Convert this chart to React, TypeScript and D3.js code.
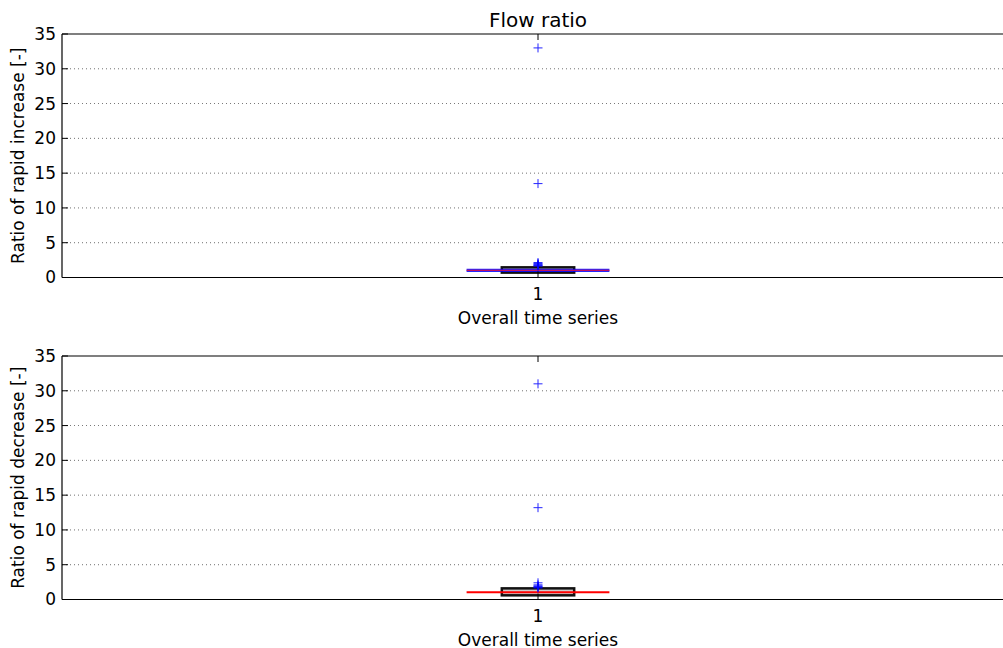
import React from "react";
import * as d3 from "d3";

const W = 1003;
const H = 648;

const yTicks = [0, 5, 10, 15, 20, 25, 30, 35];
const xTickLabels = ["1"];
const titleText = "Flow ratio";
const xLabel = "Overall time series";

const panelLabels = ["Ratio of rapid increase [-]", "Ratio of rapid decrease [-]"];
// box stats: [whiskerLow, q1, median, q3, whiskerHigh]
const increaseBox = [0.7, 0.7, 1.03, 1.46, 1.46];
const decreaseBox = [0.6, 0.6, 1.05, 1.6, 1.6];
const increaseOutliers = [33, 13.5, 2.15, 2.0, 1.9, 1.8, 1.7, 1.65];
const decreaseOutliers = [31, 13.2, 2.4, 2.1, 1.95, 1.85, 1.75, 1.65];

const panels = [
  { label: panelLabels[0], box: increaseBox, outliers: increaseOutliers, top: 34, bottom: 277.5, purple: true },
  { label: panelLabels[1], box: decreaseBox, outliers: decreaseOutliers, top: 356, bottom: 599.5, purple: false },
];

const FONT = "DejaVu Sans, sans-serif";
const FS = 17;

function Panel({ p }: { p: typeof panels[number] }) {
  const x = d3.scaleLinear().domain([0.5, 1.5]).range([62, 1014]);
  const y = d3.scaleLinear().domain([0, 35]).range([p.bottom, p.top]);
  const cx = x(1);
  const boxHalf = x(1.038) - x(1);
  const lineHalf = x(1.075) - x(1);
  const [wl, q1, med, q3, wh] = p.box;
  const plus = 4.5;
  return (
    <g>
      {yTicks.filter((t) => t > 0 && t < 35).map((t) => (
        <line key={"g" + t} x1={62} x2={1014} y1={y(t)} y2={y(t)} stroke="#000" strokeWidth={0.8} strokeDasharray="1,3" opacity={0.7} />
      ))}
      <line x1={cx} x2={cx} y1={y(wl)} y2={y(q1)} stroke="#000" strokeWidth={1} />
      <line x1={cx} x2={cx} y1={y(q3)} y2={y(wh)} stroke="#000" strokeWidth={1} />
      <rect x={cx - boxHalf} y={y(q3)} width={boxHalf * 2} height={y(q1) - y(q3)} fill="#555" fillOpacity={0.3} stroke="#111" strokeWidth={2.5} />
      {p.purple && (
        <line x1={cx - lineHalf} x2={cx + lineHalf} y1={y(med)} y2={y(med)} stroke="#0000ff" strokeWidth={3.2} opacity={0.85} />
      )}
      <line x1={cx - lineHalf} x2={cx + lineHalf} y1={y(med)} y2={y(med)} stroke={p.purple ? "#c01060" : "#ff0000"} strokeWidth={p.purple ? 1.4 : 2} />
      {p.outliers.map((v, i) => (
        <g key={i} stroke="#0000ff" strokeWidth={1} opacity={0.85}>
          <line x1={cx - plus} x2={cx + plus} y1={y(v)} y2={y(v)} />
          <line x1={cx} x2={cx} y1={y(v) - plus} y2={y(v) + plus} />
        </g>
      ))}
      <line x1={62} x2={1014} y1={p.top} y2={p.top} stroke="#000" strokeWidth={1.2} />
      <line x1={62} x2={1014} y1={p.bottom} y2={p.bottom} stroke="#000" strokeWidth={1.2} />
      <line x1={62} x2={62} y1={p.top} y2={p.bottom} stroke="#000" strokeWidth={1.2} />
      {yTicks.map((t) => (
        <g key={"t" + t}>
          <line x1={62} x2={68} y1={y(t)} y2={y(t)} stroke="#000" strokeWidth={1} />
          <text x={56} y={y(t)} dy="0.35em" textAnchor="end" fontSize={FS} fontFamily={FONT} fill="#000">{t}</text>
        </g>
      ))}
      <line x1={cx} x2={cx} y1={p.bottom} y2={p.bottom - 6} stroke="#000" strokeWidth={1} />
      <line x1={cx} x2={cx} y1={p.top} y2={p.top + 6} stroke="#000" strokeWidth={1} />
      <text x={cx} y={p.bottom + 22} textAnchor="middle" fontSize={FS} fontFamily={FONT} fill="#000">{xTickLabels[0]}</text>
      <text x={cx} y={p.bottom + 46} textAnchor="middle" fontSize={FS} fontFamily={FONT} fill="#000">{xLabel}</text>
      <text transform={`translate(24,${(p.top + p.bottom) / 2}) rotate(-90)`} textAnchor="middle" fontSize={FS} fontFamily={FONT} fill="#000">{p.label}</text>
    </g>
  );
}

export default function App() {
  return (
    <svg width={W} height={H} style={{ position: "absolute", left: 0, top: 0, background: "#fff" }}>
      <rect width={W} height={H} fill="#fff" />
      <text x={538} y={27} textAnchor="middle" fontSize={20} fontFamily={FONT} fill="#000">{titleText}</text>
      {panels.map((p, i) => (
        <Panel key={i} p={p} />
      ))}
    </svg>
  );
}
